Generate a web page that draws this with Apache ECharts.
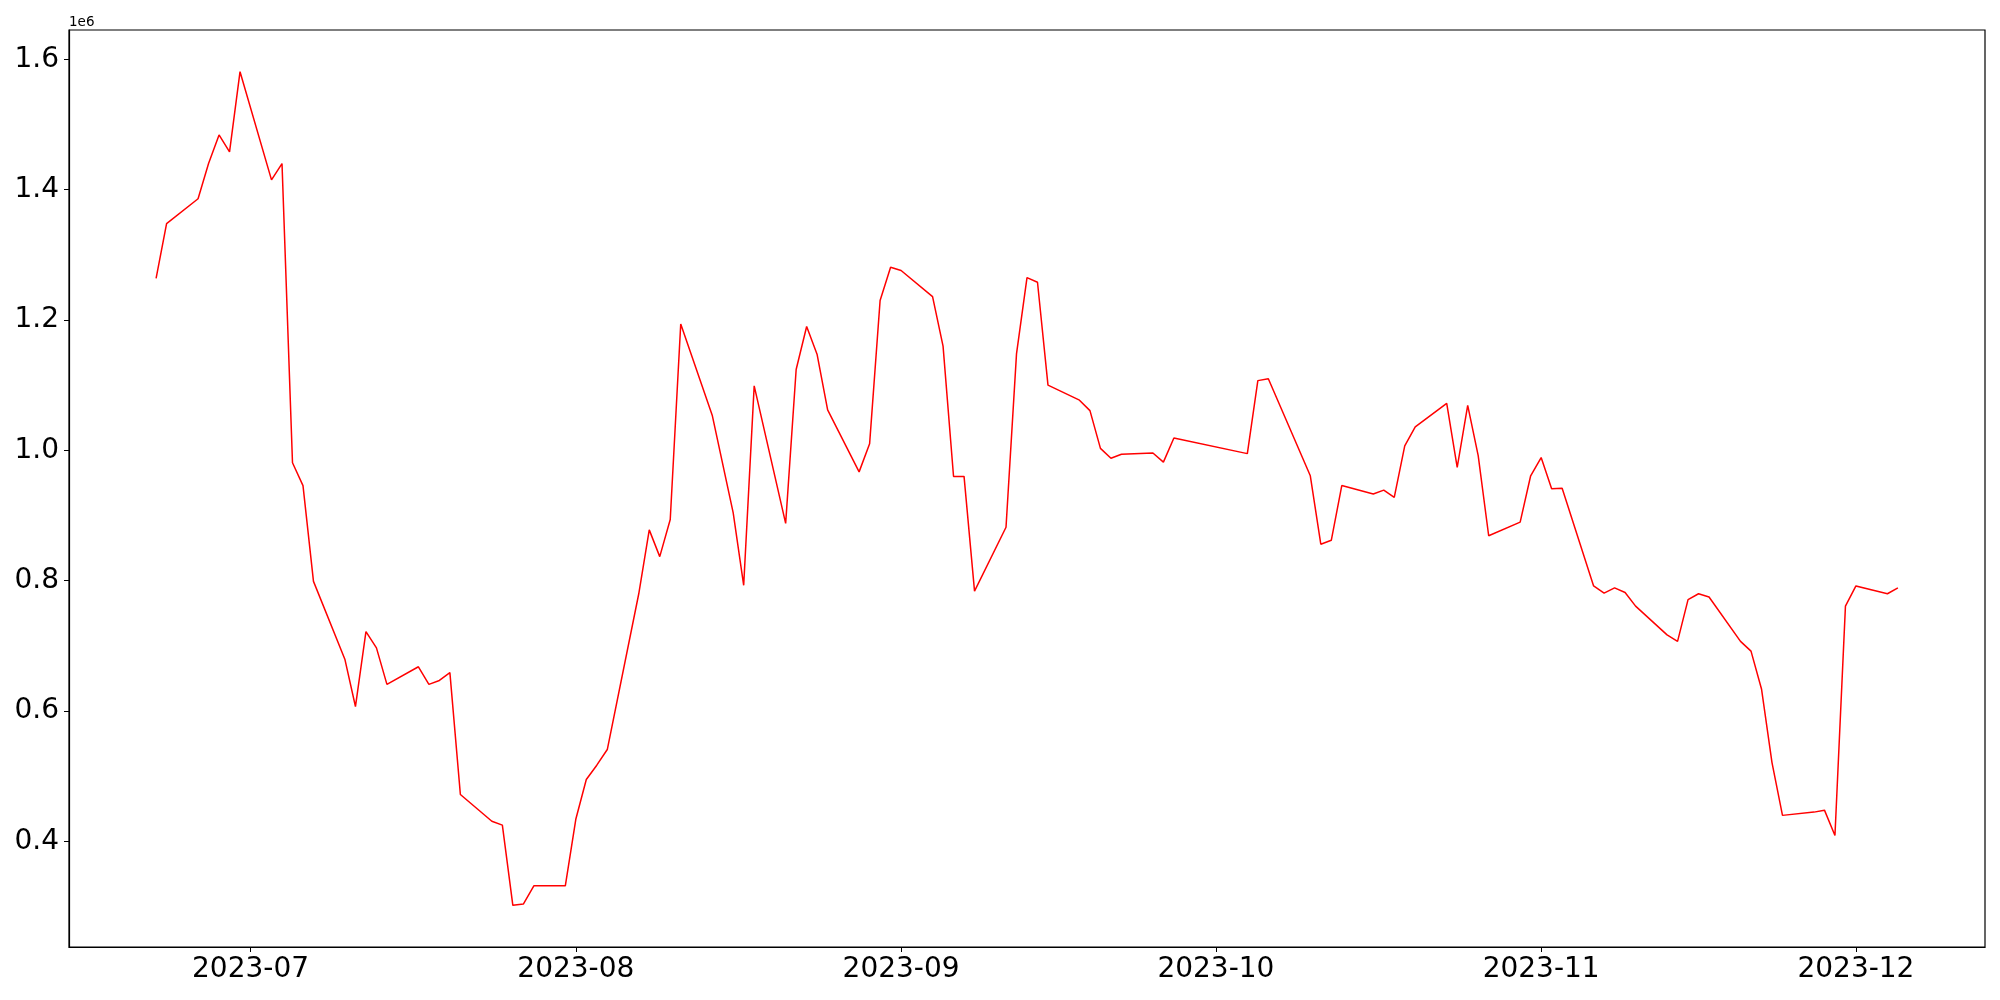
<!DOCTYPE html>
<html>
<head>
<meta charset="utf-8">
<script src="https://cdn.jsdelivr.net/npm/echarts@6/dist/echarts.min.js"></script>
<style>
  html, body { margin: 0; padding: 0; background: #fff; }
  #chart { width: 2000px; height: 1000px; }
</style>
</head>
<body>
<div id="chart"></div>
<script>
// trading days (weekdays, KRX holidays left out)
const dates = [
  '2023-06-22', '2023-06-23', '2023-06-26', '2023-06-27', '2023-06-28', '2023-06-29', '2023-06-30',
  '2023-07-03', '2023-07-04', '2023-07-05', '2023-07-06', '2023-07-07',
  '2023-07-10', '2023-07-11', '2023-07-12', '2023-07-13', '2023-07-14',
  '2023-07-17', '2023-07-18', '2023-07-19', '2023-07-20', '2023-07-21',
  '2023-07-24', '2023-07-25', '2023-07-26', '2023-07-27', '2023-07-28',
  '2023-07-31', '2023-08-01', '2023-08-02', '2023-08-03', '2023-08-04',
  '2023-08-07', '2023-08-08', '2023-08-09', '2023-08-10', '2023-08-11',
  '2023-08-14', '2023-08-16', '2023-08-17', '2023-08-18',
  '2023-08-21', '2023-08-22', '2023-08-23', '2023-08-24', '2023-08-25',
  '2023-08-28', '2023-08-29', '2023-08-30', '2023-08-31', '2023-09-01',
  '2023-09-04', '2023-09-05', '2023-09-06', '2023-09-07', '2023-09-08',
  '2023-09-11', '2023-09-12', '2023-09-13', '2023-09-14', '2023-09-15',
  '2023-09-18', '2023-09-19', '2023-09-20', '2023-09-21', '2023-09-22',
  '2023-09-25', '2023-09-26', '2023-09-27',
  '2023-10-04', '2023-10-05', '2023-10-06',
  '2023-10-10', '2023-10-11', '2023-10-12', '2023-10-13',
  '2023-10-16', '2023-10-17', '2023-10-18', '2023-10-19', '2023-10-20',
  '2023-10-23', '2023-10-24', '2023-10-25', '2023-10-26', '2023-10-27',
  '2023-10-30', '2023-10-31', '2023-11-01', '2023-11-02', '2023-11-03',
  '2023-11-06', '2023-11-07', '2023-11-08', '2023-11-09', '2023-11-10',
  '2023-11-13', '2023-11-14', '2023-11-15', '2023-11-16', '2023-11-17',
  '2023-11-20', '2023-11-21', '2023-11-22', '2023-11-23', '2023-11-24',
  '2023-11-27', '2023-11-28', '2023-11-29', '2023-11-30', '2023-12-01',
  '2023-12-04', '2023-12-05'
]

const values = [
  1264000, 1348000, 1386000, 1440000, 1484000, 1458000, 1581000,
  1415000, 1440000, 981000, 946000, 799000,
  679000, 607000, 722000, 697000, 641000,
  668000, 641000, 647000, 659000, 472000,
  431000, 425000, 302000, 304000, 332000,
  332000, 434000, 495000, 517000, 541000,
  780000, 878000, 837000, 894000, 1194000,
  1054000, 904000, 793000, 1099000,
  888000, 1124000, 1190000, 1147000, 1062000,
  967000, 1010000, 1230000, 1281000, 1276000,
  1236000, 1160000, 960000, 960000, 784000,
  882000, 1148000, 1265000, 1258000, 1100000,
  1077000, 1061000, 1003000, 988000, 994000,
  996000, 982000, 1019000,
  995000, 1107000, 1110000,
  961000, 856000, 862000, 946000,
  933000, 939000, 928000, 1007000, 1036000,
  1072000, 974000, 1069000, 992000, 869000,
  890000, 961000, 989000, 941000, 942000,
  792000, 781000, 789000, 782000, 761000,
  717000, 707000, 771000, 780000, 775000,
  707000, 692000, 634000, 521000, 440000,
  445000, 448000, 409000, 761000, 792000,
  780000, 789000
]

const xTicks = ['2023-07-01', '2023-08-01', '2023-09-01', '2023-10-01', '2023-11-01', '2023-12-01']
const yTicks = [400000, 600000, 800000, 1000000, 1200000, 1400000, 1600000]

// dates -> UTC timestamps, so the page timezone does not matter
function toTime(s) {
  const p = s.split('-').map(Number)
  return Date.UTC(p[0], p[1] - 1, p[2])
}

const chart = echarts.init(document.getElementById('chart'))

const times = dates.map(toTime)
const t0 = times[0]
const t1 = times[times.length - 1]
const xPad = (t1 - t0) * 0.05

const vMin = Math.min(...values)
const vMax = Math.max(...values)
const yPad = (vMax - vMin) * 0.05

const font = 'DejaVu Sans'

let option = {
  backgroundColor: '#fff',
  animation: false,
  graphic: [
    {
      type: 'text',
      left: 69,
      top: 15,
      style: { text: '1e6', fontSize: 13.5, fontFamily: font, fill: '#000' }
    }
  ],
  grid: {
    left: 69,
    right: 15,
    top: 30,
    bottom: 53,
    show: true,
    borderColor: '#000',
    borderWidth: 1.2
  },
  xAxis: {
    type: 'value',
    min: t0 - xPad,
    max: t1 + xPad,
    axisLine: { show: true, onZero: false, lineStyle: { color: '#000', width: 1.2 } },
    axisTick: {
      show: true,
      length: 5,
      lineStyle: { color: '#000', width: 1 },
      customValues: xTicks.map(toTime)
    },
    axisLabel: {
      color: '#000',
      fontSize: 28,
      fontFamily: font,
      margin: 9,
      customValues: xTicks.map(toTime),
      formatter: function (v) {
        const d = new Date(v)
        return d.getUTCFullYear() + '-' + String(d.getUTCMonth() + 1).padStart(2, '0')
      }
    },
    splitLine: { show: false }
  },
  yAxis: {
    type: 'value',
    min: vMin - yPad,
    max: vMax + yPad,
    axisLine: { show: true, onZero: false, lineStyle: { color: '#000', width: 1.2 } },
    axisTick: {
      show: true,
      length: 5,
      lineStyle: { color: '#000', width: 1 },
      customValues: yTicks
    },
    axisLabel: {
      color: '#000',
      fontSize: 28,
      fontFamily: font,
      margin: 10,
      customValues: yTicks,
      formatter: function (v) {
        return (v / 1e6).toFixed(1)
      }
    },
    splitLine: { show: false }
  },
  series: [
    {
      type: 'line',
      showSymbol: false,
      symbol: 'none',
      lineStyle: { color: '#ff0000', width: 1.5 },
      data: times.map((t, i) => [t, values[i]])
    }
  ]
}

option && chart.setOption(option)
</script>
</body>
</html>
